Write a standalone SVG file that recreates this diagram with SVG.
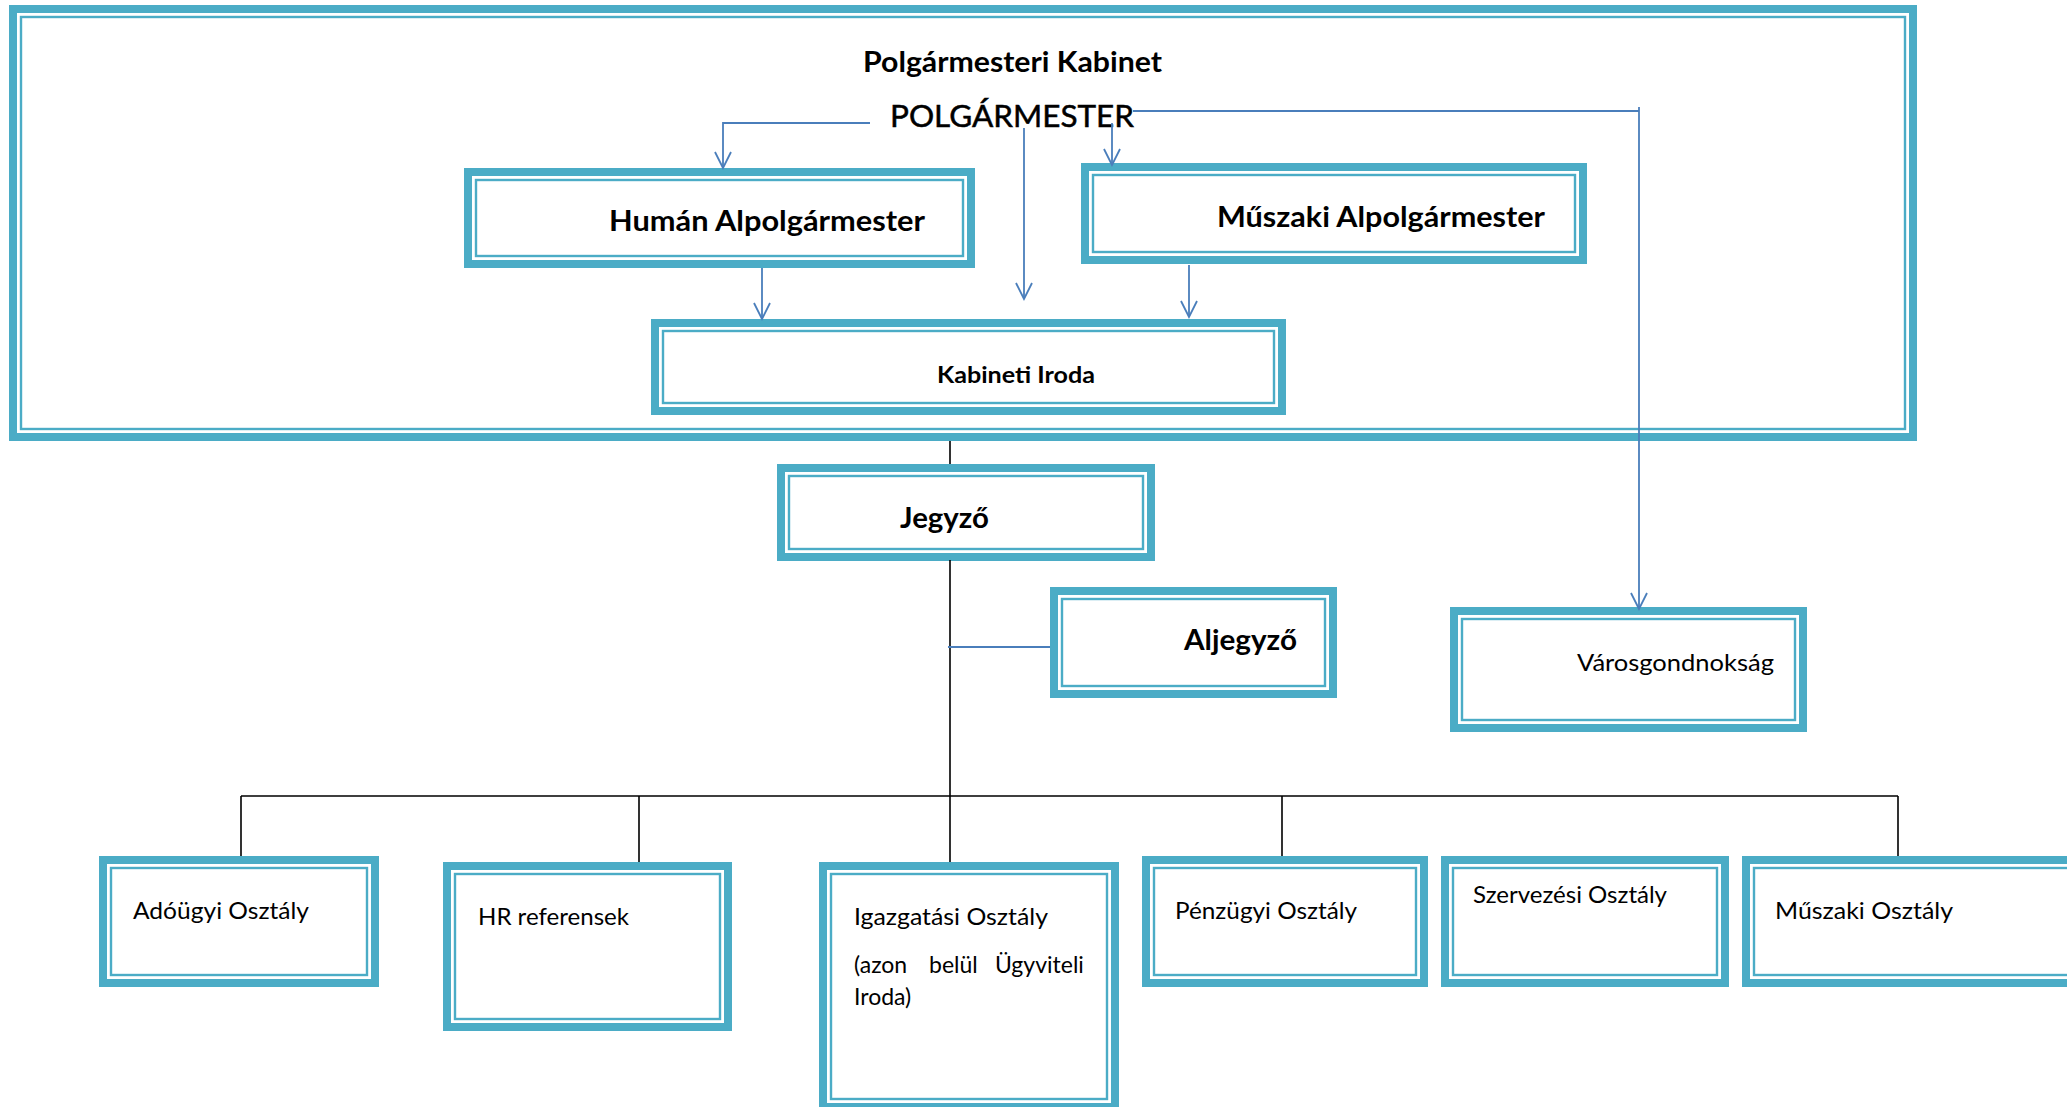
<svg xmlns="http://www.w3.org/2000/svg" width="2067" height="1107" viewBox="0 0 2067 1107">
<style>
.thick{fill:#fff;stroke:#4bacc6;stroke-width:8}
.thin{fill:none;stroke:#4bacc6;stroke-width:2.4}
.t{font-family:Lato,"Open Sans","Liberation Sans",sans-serif;fill:#000}
.b{font-weight:bold}
.blk{fill:none;stroke:#000;stroke-width:1.6}
.blu{fill:none;stroke:#4a7ebb;stroke-width:1.8}
</style>
<defs>
<marker id="arr" markerUnits="userSpaceOnUse" markerWidth="20" markerHeight="20" viewBox="-18 -10 20 20" refX="0" refY="0" orient="auto">
<path d="M-16,-8 L0,0 L-16,8" fill="none" stroke="#4a7ebb" stroke-width="1.8"/>
</marker>
</defs>
<rect width="2067" height="1107" fill="#fff"/>
<g id="kabinet">
<rect class="thick" x="13" y="9" width="1900" height="428"/>
<rect class="thin" x="21" y="17" width="1884" height="412"/>
<text class="t b" x="863" y="72" font-size="29" textLength="299" lengthAdjust="spacingAndGlyphs">Polgármesteri Kabinet</text>
<text class="t" x="890" y="127" font-size="30" textLength="244" lengthAdjust="spacingAndGlyphs" stroke="#000" stroke-width="0.5">POLGÁRMESTER</text>
</g>
<g id="human">
<rect class="thick" x="468" y="172" width="503" height="92"/>
<rect class="thin" x="476" y="180" width="487" height="76"/>
<text class="t b" x="609" y="231" font-size="29" textLength="316" lengthAdjust="spacingAndGlyphs">Humán Alpolgármester</text>
</g>
<g id="muszaki-alp">
<rect class="thick" x="1085" y="167" width="498" height="93"/>
<rect class="thin" x="1093" y="175" width="482" height="77"/>
<text class="t b" x="1217" y="227" font-size="29" textLength="328" lengthAdjust="spacingAndGlyphs">Műszaki Alpolgármester</text>
</g>
<g id="kabineti-iroda">
<rect class="thick" x="655" y="323" width="627" height="88"/>
<rect class="thin" x="663" y="331" width="611" height="72"/>
<text class="t b" x="937" y="383" font-size="23" textLength="158" lengthAdjust="spacingAndGlyphs">Kabineti Iroda</text>
</g>
<g id="jegyzo">
<rect class="thick" x="781" y="468" width="370" height="89"/>
<rect class="thin" x="789" y="476" width="354" height="73"/>
<text class="t b" x="900" y="528" font-size="29" textLength="89" lengthAdjust="spacingAndGlyphs">Jegyző</text>
</g>
<g id="aljegyzo">
<rect class="thick" x="1054" y="591" width="279" height="103"/>
<rect class="thin" x="1062" y="599" width="263" height="87"/>
<text class="t b" x="1184" y="650" font-size="29" textLength="113" lengthAdjust="spacingAndGlyphs">Aljegyző</text>
</g>
<g id="varosgondnoksag">
<rect class="thick" x="1454" y="611" width="349" height="117"/>
<rect class="thin" x="1462" y="619" width="333" height="101"/>
<text class="t" x="1577" y="671" font-size="24" textLength="197" lengthAdjust="spacingAndGlyphs">Városgondnokság</text>
</g>
<g id="adougyi">
<rect class="thick" x="103" y="860" width="272" height="123"/>
<rect class="thin" x="111" y="868" width="256" height="107"/>
<text class="t" x="133" y="919" font-size="23" textLength="176" lengthAdjust="spacingAndGlyphs">Adóügyi Osztály</text>
</g>
<g id="hr">
<rect class="thick" x="447" y="866" width="281" height="161"/>
<rect class="thin" x="455" y="874" width="265" height="145"/>
<text class="t" x="478" y="925" font-size="23" textLength="151" lengthAdjust="spacingAndGlyphs">HR referensek</text>
</g>
<g id="igazgatasi">
<rect class="thick" x="823" y="866" width="292" height="241"/>
<rect class="thin" x="831" y="874" width="276" height="225"/>
<text class="t" x="854" y="925" font-size="23" textLength="194" lengthAdjust="spacingAndGlyphs">Igazgatási Osztály</text>
<text class="t" y="973" font-size="23"><tspan x="854">(azon</tspan> <tspan x="929">belül</tspan> <tspan x="995">Ügyviteli</tspan></text>
<text class="t" x="854" y="1005" font-size="23">Iroda)</text>
</g>
<g id="penzugyi">
<rect class="thick" x="1146" y="860" width="278" height="123"/>
<rect class="thin" x="1154" y="868" width="262" height="107"/>
<text class="t" x="1175" y="919" font-size="23" textLength="182" lengthAdjust="spacingAndGlyphs">Pénzügyi Osztály</text>
</g>
<g id="szervezesi">
<rect class="thick" x="1445" y="860" width="280" height="123"/>
<rect class="thin" x="1453" y="868" width="264" height="107"/>
<text class="t" x="1473" y="903" font-size="23" textLength="194" lengthAdjust="spacingAndGlyphs">Szervezési Osztály</text>
</g>
<g id="muszaki-osztaly">
<rect class="thick" x="1746" y="860" width="332" height="123"/>
<rect class="thin" x="1754" y="868" width="316" height="107"/>
<text class="t" x="1775" y="919" font-size="23" textLength="178" lengthAdjust="spacingAndGlyphs">Műszaki Osztály</text>
</g>
<g id="connectors">
<path class="blk" d="M950,441 V464 M950,560 V862 M241,796 H1898 M241,796 V856 M639,796 V862 M1282,796 V856 M1898,796 V856"/>
<path class="blu" d="M870,123 H723 V168" marker-end="url(#arr)"/>
<path class="blu" d="M1024,128 V299" marker-end="url(#arr)"/>
<path class="blu" d="M1112,123 V165" marker-end="url(#arr)"/>
<path class="blu" d="M1133,111 H1639"/>
<path class="blu" d="M1639,107 V609" marker-end="url(#arr)"/>
<path class="blu" d="M762,268 V319" marker-end="url(#arr)"/>
<path class="blu" d="M1189,265 V317" marker-end="url(#arr)"/>
<path class="blu" d="M948,647 H1050"/>
</g>
</svg>
